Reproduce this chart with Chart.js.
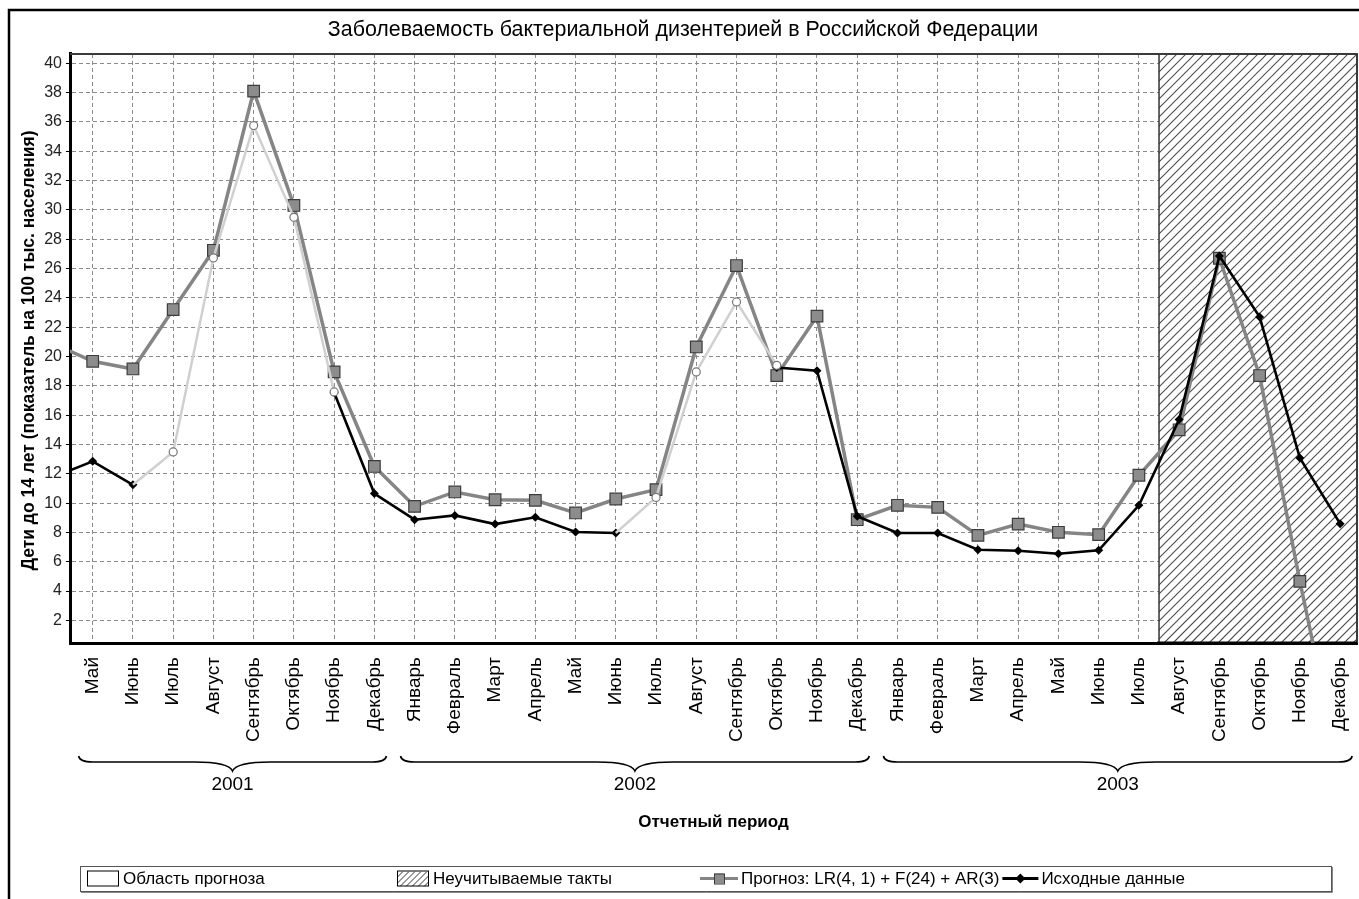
<!DOCTYPE html>
<html><head><meta charset="utf-8">
<script src="https://cdn.jsdelivr.net/npm/chart.js@4.4.1/dist/chart.umd.min.js"></script>
<style>html,body{margin:0;padding:0;background:#fff;}#wrap{width:1359px;height:899px;}</style>
</head><body><div id="wrap"><canvas id="c" width="1359" height="899"></canvas></div>
<script>
// ---- data ----
const chartTitle = 'Заболеваемость бактериальной дизентерией в Российской Федерации';
const yAxisTitle = 'Дети до 14 лет (показатель на 100 тыс. населения)';
const xAxisTitle = 'Отчетный период';
const categories = ['Апрель','Май','Июнь','Июль','Август','Сентябрь','Октябрь','Ноябрь','Декабрь',
  'Январь','Февраль','Март','Апрель','Май','Июнь','Июль','Август','Сентябрь','Октябрь','Ноябрь','Декабрь',
  'Январь','Февраль','Март','Апрель','Май','Июнь','Июль','Август','Сентябрь','Октябрь','Ноябрь','Декабрь'];
const categoryYears = [2001,2001,2001,2001,2001,2001,2001,2001,2001,
  2002,2002,2002,2002,2002,2002,2002,2002,2002,2002,2002,2002,
  2003,2003,2003,2003,2003,2003,2003,2003,2003,2003,2003,2003];
const forecastValues = [20.9,19.67,19.15,23.2,27.24,38.1,30.3,18.95,12.5,
  9.78,10.76,10.23,10.19,9.33,10.28,10.92,20.65,26.2,18.7,22.75,8.87,
  9.85,9.71,7.8,8.57,8.01,7.85,11.9,15.0,26.7,18.7,4.66,-8.3];
const originalValues = [11.75,12.85,11.25,null,null,null,null,17.55,10.65,
  8.87,9.16,8.57,9.03,8.03,7.96,null,null,null,19.25,19.03,9.1,
  7.96,7.96,6.82,6.75,6.55,6.78,9.85,15.7,26.85,22.7,13.08,8.6];
const restoredValues = [null,null,11.25,13.49,26.72,35.75,29.49,17.58,null,
  null,null,null,null,null,7.96,10.39,18.95,23.72,19.4,null,null,
  null,null,null,null,null,null,null,null,null,null,null,null];
const yTickValues = [2,4,6,8,10,12,14,16,18,20,22,24,26,28,30,32,34,36,38,40];
const ignoredTacts = 5;
const legendAreaLabels = ['Область прогноза', 'Неучитываемые такты'];

const FONT = '"Liberation Sans", Arial, sans-serif';
const NARROW = '"Liberation Sans Narrow", "Liberation Sans", Arial, sans-serif';

function hatch(ctx, x, y, w, h, step, color, lw) {
  ctx.save();
  ctx.beginPath(); ctx.rect(x, y, w, h); ctx.clip();
  ctx.fillStyle = '#fff'; ctx.fillRect(x, y, w, h);
  ctx.strokeStyle = color; ctx.lineWidth = lw;
  ctx.beginPath();
  for (let k = x - h; k < x + w + step; k += step) { ctx.moveTo(k, y + h); ctx.lineTo(k + h, y); }
  ctx.stroke();
  ctx.restore();
}

function brace(ctx, xa, xb, y) {
  const xc = (xa + xb) / 2;
  ctx.beginPath();
  ctx.moveTo(xa, y - 6);
  ctx.quadraticCurveTo(xa + 1, y, xa + 14, y);
  ctx.lineTo(xc - 38, y);
  ctx.quadraticCurveTo(xc - 4, y, xc, y + 9);
  ctx.quadraticCurveTo(xc + 4, y, xc + 38, y);
  ctx.lineTo(xb - 14, y);
  ctx.quadraticCurveTo(xb - 1, y, xb, y - 6);
  ctx.stroke();
}

const extras = {
  id: 'extras',
  beforeDatasetsDraw(chart) {
    const {ctx, chartArea: a, scales: {x}} = chart;
    const x0 = x.getPixelForValue(categories.length - 1 - ignoredTacts + 0.5);
    hatch(ctx, x0, a.top, a.right - x0, a.bottom - a.top, 9, '#4a4a4a', 1.1);
    ctx.save();
    ctx.strokeStyle = '#333'; ctx.lineWidth = 1.5;
    ctx.beginPath(); ctx.moveTo(x0, a.top); ctx.lineTo(x0, a.bottom); ctx.stroke();
    ctx.strokeStyle = '#3a3a3a'; ctx.lineWidth = 2;
    ctx.beginPath(); ctx.moveTo(a.left, a.top); ctx.lineTo(a.right, a.top); ctx.lineTo(a.right, a.bottom); ctx.stroke();
    ctx.strokeStyle = '#000'; ctx.lineWidth = 3;
    ctx.beginPath(); ctx.moveTo(x0 - 2, a.bottom); ctx.lineTo(a.right, a.bottom); ctx.stroke();
    ctx.restore();
  },
  afterDraw(chart) {
    const {ctx, chartArea: a, scales: {x}} = chart;
    ctx.save();
    // outer frame
    ctx.strokeStyle = '#000'; ctx.lineWidth = 2.5;
    ctx.beginPath(); ctx.moveTo(9, 899); ctx.lineTo(9, 10); ctx.lineTo(1359, 10); ctx.stroke();
    // y title
    ctx.save();
    ctx.translate(29, (a.top + a.bottom) / 2 + 2);
    ctx.rotate(-Math.PI / 2);
    ctx.font = 'bold 19px ' + NARROW;
    ctx.fillStyle = '#000'; ctx.textAlign = 'center'; ctx.textBaseline = 'middle';
    ctx.fillText(yAxisTitle, 0, 0, 440);
    ctx.restore();
    // year braces
    const years = [...new Set(categoryYears)];
    ctx.strokeStyle = '#000'; ctx.lineWidth = 1.6;
    ctx.font = '19px ' + FONT; ctx.fillStyle = '#000'; ctx.textAlign = 'center'; ctx.textBaseline = 'middle';
    years.forEach(yr => {
      const idx = categoryYears.map((v, i) => v === yr ? i : -1).filter(i => i >= 0 && i >= x.min && i <= x.max);
      const xa = x.getPixelForValue(idx[0] - 0.35), xb = x.getPixelForValue(idx[idx.length - 1] + 0.3);
      brace(ctx, xa, xb, 762);
      ctx.fillText(String(yr), (xa + xb) / 2, 785);
    });
    // x title
    ctx.font = 'bold 17px ' + NARROW;
    ctx.fillText(xAxisTitle, (a.left + a.right) / 2, 822);
    // legend
    const L = {left: 80, right: 1331, top: 866, bottom: 891};
    const cy = (L.top + L.bottom) / 2;
    ctx.strokeStyle = '#555'; ctx.lineWidth = 1;
    ctx.strokeRect(L.left + 0.5, L.top + 0.5, L.right - L.left, L.bottom - L.top);
    ctx.strokeStyle = '#888'; ctx.beginPath(); ctx.moveTo(L.left + 1, L.bottom + 1.5); ctx.lineTo(L.right + 1.5, L.bottom + 1.5); ctx.lineTo(L.right + 1.5, L.top + 1); ctx.stroke();
    ctx.font = '17px ' + FONT; ctx.textAlign = 'left'; ctx.fillStyle = '#000';
    // item 1
    ctx.strokeStyle = '#000'; ctx.lineWidth = 1;
    ctx.fillStyle = '#fff'; ctx.fillRect(87, cy - 7, 31, 14);
    ctx.strokeRect(87.5, cy - 7.5, 31, 15);
    ctx.fillStyle = '#000'; ctx.fillText(legendAreaLabels[0], 123, cy + 1);
    // item 2
    hatch(ctx, 397, cy - 7, 31, 15, 6, '#333', 1);
    ctx.strokeStyle = '#000'; ctx.strokeRect(397.5, cy - 7.5, 31, 15);
    ctx.fillStyle = '#000'; ctx.fillText(legendAreaLabels[1], 433, cy + 1);
    // item 3
    const ds = chart.data.datasets;
    ctx.strokeStyle = '#858585'; ctx.lineWidth = 3;
    ctx.beginPath(); ctx.moveTo(700, cy); ctx.lineTo(738, cy); ctx.stroke();
    ctx.fillStyle = '#8c8c8c'; ctx.strokeStyle = '#3c3c3c'; ctx.lineWidth = 1;
    ctx.fillRect(714, cy - 5, 10, 10); ctx.strokeRect(714.5, cy - 4.5, 10, 10);
    ctx.fillStyle = '#000'; ctx.fillText(ds[2].label, 741, cy + 1);
    const end3 = 741 + ctx.measureText(ds[2].label).width;
    // item 4
    const s4 = end3 + 3;
    ctx.strokeStyle = '#000'; ctx.lineWidth = 3;
    ctx.beginPath(); ctx.moveTo(s4, cy); ctx.lineTo(s4 + 36, cy); ctx.stroke();
    ctx.beginPath(); ctx.moveTo(s4 + 18, cy - 5); ctx.lineTo(s4 + 23, cy); ctx.lineTo(s4 + 18, cy + 5); ctx.lineTo(s4 + 13, cy); ctx.closePath(); ctx.fillStyle = '#000'; ctx.fill();
    ctx.fillText(ds[1].label, s4 + 39, cy + 1);
    ctx.restore();
  }
};

const pts = arr => arr.map((v, i) => ({x: i, y: v}));

new Chart(document.getElementById('c'), {
  type: 'line',
  data: {
    datasets: [
      {
        label: 'Восстановленные данные',
        data: pts(restoredValues),
        borderColor: '#d0d0d0', borderWidth: 2.5, tension: 0, spanGaps: false,
        pointStyle: 'circle', pointBackgroundColor: '#fff', pointBorderColor: '#777', pointBorderWidth: 1.2,
        pointRadius: c => (restoredValues[c.dataIndex] === originalValues[c.dataIndex] ? 0 : 4),
        order: 0
      },
      {
        label: 'Исходные данные',
        data: pts(originalValues),
        borderColor: '#000', borderWidth: 2.6, tension: 0, spanGaps: false,
        pointStyle: 'rectRot', pointBackgroundColor: '#000', pointBorderColor: '#000', pointRadius: 4.5, pointBorderWidth: 0,
        order: 1
      },
      {
        label: 'Прогноз: LR(4, 1) + F(24) + AR(3)',
        data: pts(forecastValues),
        borderColor: '#858585', borderWidth: 3.5, tension: 0,
        pointStyle: 'rect', pointBackgroundColor: '#8c8c8c', pointBorderColor: '#3c3c3c', pointRadius: 8.2, pointBorderWidth: 1.2,
        order: 2
      }
    ]
  },
  options: {
    responsive: false, animation: false, events: [],
    layout: {autoPadding: false, padding: {left: 9, right: 2, top: 0, bottom: 0}},
    plugins: {
      legend: {display: false}, tooltip: {enabled: false},
      title: {display: true, text: chartTitle, color: '#000',
        font: {family: FONT, size: 21.4, weight: 'normal'}, padding: {top: 17, bottom: 11.3}}
    },
    scales: {
      x: {
        type: 'linear', min: 0.436, max: 32.42,
        afterBuildTicks: s => { s.ticks = categories.map((c, i) => ({value: i})).filter(t => t.value >= s.min && t.value <= s.max); },
        afterFit: s => { s.height = 256; s.paddingLeft = 0; s.paddingRight = 0; },
        ticks: {callback: v => categories[v], minRotation: 90, maxRotation: 90, autoSkip: false,
          color: '#000', font: {family: FONT, size: 19}, padding: 14},
        grid: {color: '#8a8a8a', lineWidth: 1, drawTicks: false},
        border: {display: true, color: '#000', width: 3, dash: [4, 3]}
      },
      y: {
        type: 'linear', min: 0.46, max: 40.63,
        afterBuildTicks: s => { s.ticks = yTickValues.map(v => ({value: v})); },
        afterFit: s => { s.width = 61; s.paddingTop = 0; s.paddingBottom = 0; },
        ticks: {color: '#222', font: {family: FONT, size: 16}, padding: 4},
        grid: {color: '#8a8a8a', lineWidth: 1, drawTicks: true, tickLength: 4, tickColor: '#000'},
        border: {display: true, color: '#000', width: 3, dash: [4, 3]}
      }
    }
  },
  plugins: [extras]
});
</script></body></html>
